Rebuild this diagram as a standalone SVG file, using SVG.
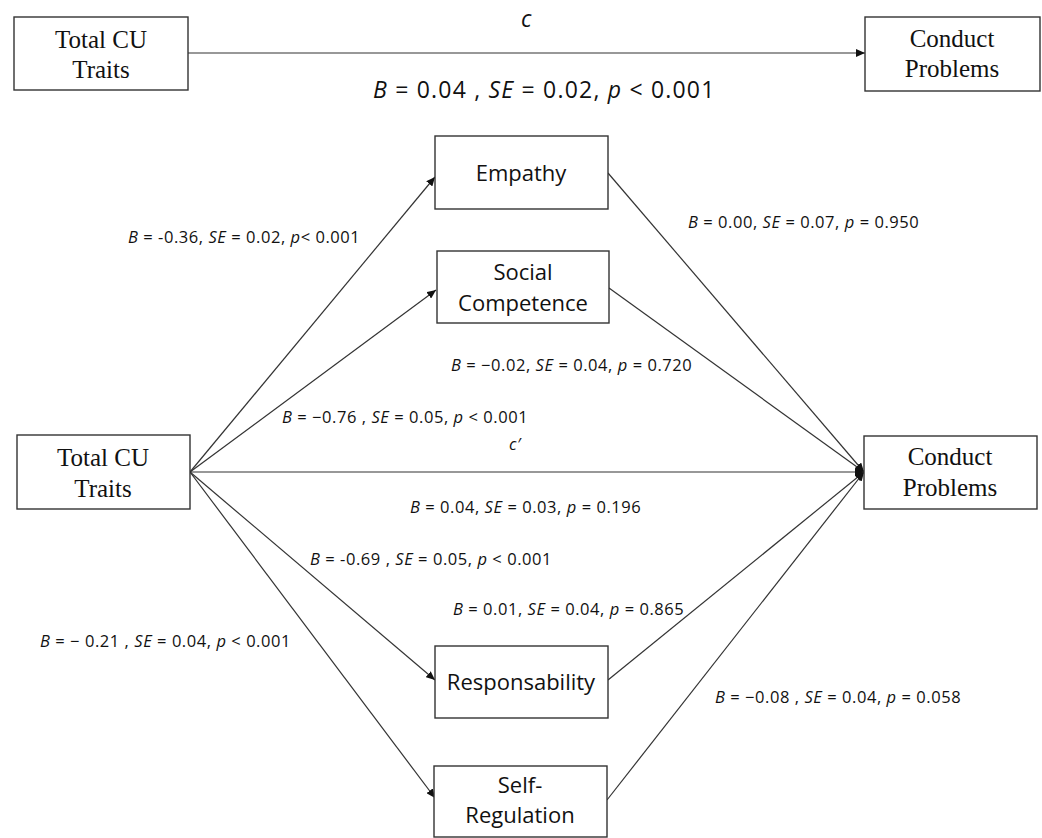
<svg xmlns="http://www.w3.org/2000/svg" width="1042" height="838" viewBox="0 0 1042 838">
<defs>
<marker id="ah" markerUnits="userSpaceOnUse" markerWidth="10" markerHeight="8" refX="9" refY="4" orient="auto">
<path d="M0,0 L9,4 L0,8 Z" fill="#111"/>
</marker>
<style>
.box{fill:#fff;stroke:#333;stroke-width:1.4}
.ser{font-family:"Liberation Serif","Times New Roman",serif;font-size:25px;fill:#111;text-anchor:middle}
.san{font-family:"Open Sans","Liberation Sans",sans-serif;font-size:22px;fill:#111;text-anchor:middle}
.lbl{font-family:"Open Sans","Liberation Sans",sans-serif;font-size:16.5px;letter-spacing:0.55px;fill:#111}
.big{font-family:"Open Sans","Liberation Sans",sans-serif;font-size:23px;letter-spacing:1.2px;fill:#111}
.i{font-style:italic}
.ln{stroke:#333;stroke-width:1.2;fill:none}
.arr{marker-end:url(#ah)}
</style>
</defs>
<rect width="1042" height="838" fill="#fff"/>

<g id="connectors">
<line class="ln arr" x1="188" y1="53" x2="865" y2="53"/>
<line class="ln arr" x1="190" y1="472" x2="435" y2="177"/>
<line class="ln arr" x1="190" y1="472" x2="436" y2="290"/>
<line class="ln arr" x1="190" y1="472" x2="435" y2="680"/>
<line class="ln arr" x1="190" y1="472" x2="435" y2="798"/>
<line class="ln arr" x1="190" y1="472" x2="864" y2="472"/>
<line class="ln arr" x1="608" y1="173" x2="864" y2="472"/>
<line class="ln arr" x1="609" y1="288" x2="864" y2="472"/>
<line class="ln arr" x1="608" y1="680" x2="864" y2="472"/>
<line class="ln arr" x1="607" y1="800" x2="864" y2="472"/>
</g>

<g id="labels">
<text class="big i" x="521" y="27">c</text>
<text class="big" x="373" y="98"><tspan class="i">B</tspan> = 0.04 , <tspan class="i">SE</tspan> = 0.02, <tspan class="i">p</tspan> &lt; 0.001</text>
<text class="lbl" x="128" y="243"><tspan class="i">B</tspan> = -0.36, <tspan class="i">SE</tspan> = 0.02, <tspan class="i">p</tspan>&lt; 0.001</text>
<text class="lbl" x="688" y="228"><tspan class="i">B</tspan> = 0.00, <tspan class="i">SE</tspan> = 0.07, <tspan class="i">p</tspan> = 0.950</text>
<text class="lbl" x="451" y="371"><tspan class="i">B</tspan> = −0.02, <tspan class="i">SE</tspan> = 0.04, <tspan class="i">p</tspan> = 0.720</text>
<text class="lbl" x="282" y="423"><tspan class="i">B</tspan> = −0.76 , <tspan class="i">SE</tspan> = 0.05, <tspan class="i">p</tspan> &lt; 0.001</text>
<text class="lbl i" x="509" y="450">c′</text>
<text class="lbl" x="410" y="513"><tspan class="i">B</tspan> = 0.04, <tspan class="i">SE</tspan> = 0.03, <tspan class="i">p</tspan> = 0.196</text>
<text class="lbl" x="310" y="565"><tspan class="i">B</tspan> = -0.69 , <tspan class="i">SE</tspan> = 0.05, <tspan class="i">p</tspan> &lt; 0.001</text>
<text class="lbl" x="453" y="615"><tspan class="i">B</tspan> = 0.01, <tspan class="i">SE</tspan> = 0.04, <tspan class="i">p</tspan> = 0.865</text>
<text class="lbl" x="40" y="647"><tspan class="i">B</tspan> = − 0.21 , <tspan class="i">SE</tspan> = 0.04, <tspan class="i">p</tspan> &lt; 0.001</text>
<text class="lbl" x="715" y="703"><tspan class="i">B</tspan> = −0.08 , <tspan class="i">SE</tspan> = 0.04, <tspan class="i">p</tspan> = 0.058</text>
</g>

<g id="node-total-cu-top">
<rect class="box" x="14" y="17" width="174" height="73"/>
<text class="ser" x="101" y="48">Total CU</text>
<text class="ser" x="101" y="78">Traits</text>
</g>
<g id="node-conduct-top">
<rect class="box" x="865" y="17" width="175" height="74"/>
<text class="ser" x="952" y="47">Conduct</text>
<text class="ser" x="952" y="77">Problems</text>
</g>
<g id="node-empathy">
<rect class="box" x="435" y="136" width="173" height="73"/>
<text class="san" x="521" y="181">Empathy</text>
</g>
<g id="node-social">
<rect class="box" x="437" y="251" width="172" height="72"/>
<text class="san" x="523" y="280">Social</text>
<text class="san" x="523" y="311">Competence</text>
</g>
<g id="node-total-cu">
<rect class="box" x="17" y="435" width="173" height="74"/>
<text class="ser" x="103" y="466">Total CU</text>
<text class="ser" x="103" y="497">Traits</text>
</g>
<g id="node-conduct">
<rect class="box" x="864" y="436" width="173" height="73"/>
<text class="ser" x="950" y="465">Conduct</text>
<text class="ser" x="950" y="496">Problems</text>
</g>
<g id="node-responsability">
<rect class="box" x="435" y="646" width="173" height="72"/>
<text class="san" x="521" y="690">Responsability</text>
</g>
<g id="node-self-regulation">
<rect class="box" x="434" y="766" width="173" height="71"/>
<text class="san" x="520" y="793">Self-</text>
<text class="san" x="520" y="823">Regulation</text>
</g>
</svg>
